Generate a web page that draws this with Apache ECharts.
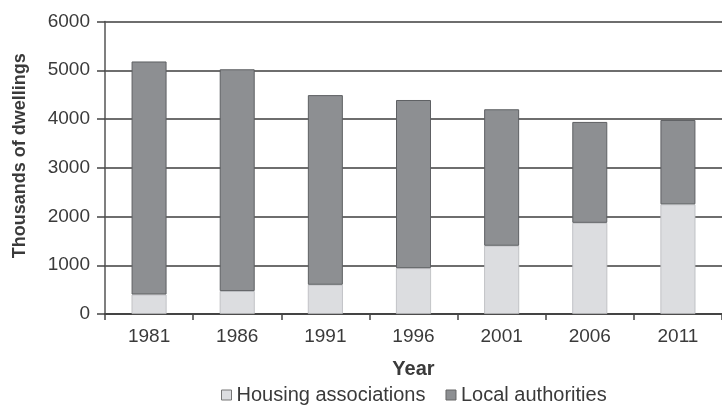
<!DOCTYPE html>
<html>
<head>
<meta charset="utf-8">
<script src="https://cdn.jsdelivr.net/npm/echarts@6/dist/echarts.min.js"></script>
<style>
  html, body { margin: 0; padding: 0; background: #ffffff; }
  #chart { width: 722px; height: 407px; }
</style>
</head>
<body>
<div id="chart"></div>
<script>
// Social housing stock by owner, thousands of dwellings
const years = ['1981', '1986', '1991', '1996', '2001', '2006', '2011'];
const housingAssociations = [400, 470, 600, 940, 1400, 1870, 2250];
const localAuthorities = [4780, 4550, 3890, 3450, 2800, 2070, 1730];
const yTicks = [0, 1000, 2000, 3000, 4000, 5000, 6000];

const FONT = '"Liberation Sans", Arial, Helvetica, sans-serif';
const TEXT = '#3a3a3a';

const chart = echarts.init(document.getElementById('chart'), null, { renderer: 'canvas' });

chart.setOption({
  backgroundColor: '#ffffff',
  animation: false,
  textStyle: { fontFamily: FONT, color: TEXT },
  grid: { left: 105, right: -6, top: 21.5, bottom: 93 },
  legend: {
    left: 216,
    top: 380,
    itemWidth: 10,
    itemHeight: 10,
    itemGap: 20,
    icon: 'rect',
    textStyle: { fontFamily: FONT, fontSize: 20, color: TEXT },
    data: [
      { name: 'Housing associations', itemStyle: { color: '#dcdde0', borderColor: '#777', borderWidth: 1 } },
      { name: 'Local authorities', itemStyle: { color: '#8d8f92', borderColor: '#666', borderWidth: 1 } }
    ]
  },
  xAxis: {
    type: 'category',
    data: years,
    name: 'Year',
    nameLocation: 'middle',
    nameGap: 45,
    nameTextStyle: { fontFamily: FONT, fontSize: 20, fontWeight: 'bold', color: TEXT },
    axisLine: { lineStyle: { color: '#444', width: 2 } },
    axisTick: { show: true, length: 6, lineStyle: { color: '#444', width: 1.5 } },
    axisLabel: { fontFamily: FONT, fontSize: 19, color: TEXT, margin: 13 }
  },
  yAxis: {
    type: 'value',
    min: yTicks[0],
    max: yTicks[yTicks.length - 1],
    interval: 1000,
    name: 'Thousands of dwellings',
    nameLocation: 'middle',
    nameGap: 76,
    nameTextStyle: { fontFamily: FONT, fontSize: 18, fontWeight: 'bold', color: TEXT, padding: [0, 0, 0, 24] },
    axisLine: { show: true, lineStyle: { color: '#555', width: 1.5 } },
    axisTick: { show: true, length: 8, lineStyle: { color: '#444', width: 1.5 } },
    axisLabel: { fontFamily: FONT, fontSize: 19, color: TEXT, margin: 15, formatter: (v) => String(v) },
    splitLine: { lineStyle: { color: '#3e3e3e', width: 1.5 } }
  },
  series: [
    {
      name: 'Housing associations',
      type: 'bar',
      stack: 'owner',
      barWidth: 35,
      data: housingAssociations,
      itemStyle: { color: '#dcdde0', borderColor: '#b8b9bc', borderWidth: 0.8 }
    },
    {
      name: 'Local authorities',
      type: 'bar',
      stack: 'owner',
      barWidth: 35,
      data: localAuthorities,
      itemStyle: { color: '#8d8f92', borderColor: '#5e6063', borderWidth: 1 }
    }
  ]
});
</script>
</body>
</html>
